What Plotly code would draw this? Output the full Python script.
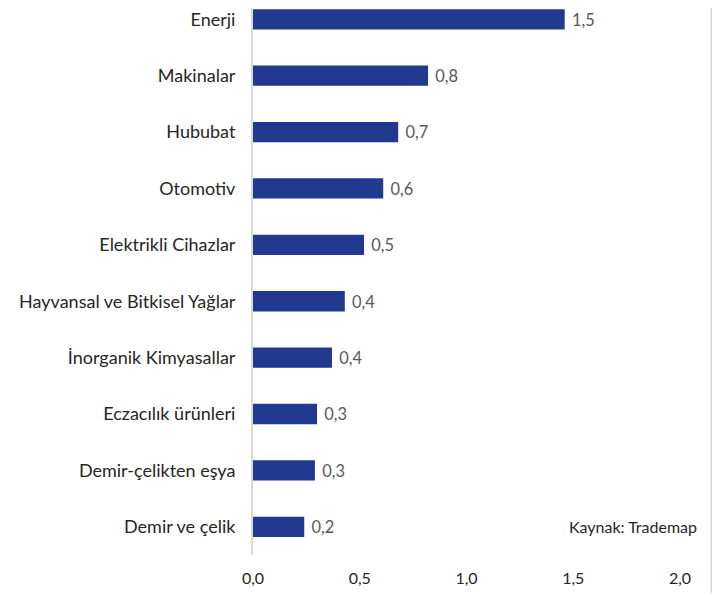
import plotly.graph_objects as go

# Sektörler (alttan üste)
sektorler = ["Demir ve çelik", "Demir-çelikten eşya", "Eczacılık ürünleri",
             "İnorganik Kimyasallar", "Hayvansal ve Bitkisel Yağlar",
             "Elektrikli Cihazlar", "Otomotiv", "Hububat", "Makinalar", "Enerji"]
degerler = [0.24, 0.29, 0.30, 0.37, 0.43, 0.52, 0.61, 0.68, 0.82, 1.46]
x_ticks = [0, 0.5, 1.0, 1.5, 2.0]
x_tick_text = ["0,0", "0,5", "1,0", "1,5", "2,0"]

fig = go.Figure()

fig.add_trace(go.Bar(
    y=sektorler,
    x=degerler,
    orientation="h",
    marker=dict(color="#213a8f", line=dict(width=0)),
    width=0.36,
    texttemplate=" %{x:.1f}",
    textposition="outside",
    textfont=dict(color="#595959", size=17),
    cliponaxis=False,
))

fig.add_annotation(
    text="Kaynak: Trademap", xref="paper", yref="y",
    x=1.045, y=0, xanchor="right", yanchor="middle",
    showarrow=False, font=dict(size=16, color="#262626"),
)

# sağdaki çerçeve çizgisi
fig.add_shape(type="line", xref="paper", yref="paper",
              x0=1.075, x1=1.075, y0=-0.07, y1=1,
              line=dict(color="#d4d4d4", width=3), layer="above")

# sayfa kenar boşluğu (8px) hesaba katıldı
fig.update_layout(
    width=712, height=588,
    margin=dict(l=245, r=40, t=0, b=41),
    plot_bgcolor="white", paper_bgcolor="white",
    font=dict(family="Lato, 'Open Sans', sans-serif", size=18, color="#262626"),
    separators=",.",
    showlegend=False,
    xaxis=dict(
        range=[0, 2.0], tickvals=x_ticks, ticktext=x_tick_text,
        showgrid=False, zeroline=False, showline=False, automargin=False,
        tickfont=dict(size=16, color="#262626"), ticklabelstandoff=12,
    ),
    yaxis=dict(
        range=[-0.5, 9.2], showgrid=False, zeroline=False,
        showline=True, linecolor="#d9d9d9", linewidth=2, automargin=False,
        ticks="", ticklabelstandoff=12,
        tickfont=dict(size=18, color="#262626"),
    ),
)

fig.write_html("out.html")
